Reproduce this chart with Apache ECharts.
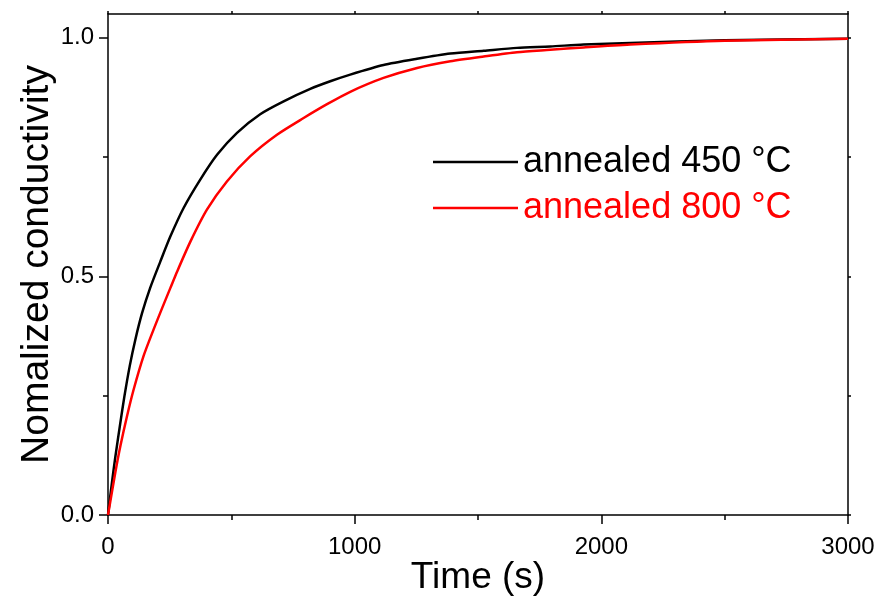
<!DOCTYPE html>
<html>
<head>
<meta charset="utf-8">
<script src="https://cdn.jsdelivr.net/npm/echarts@6/dist/echarts.min.js"></script>
<style>
  html, body { margin: 0; padding: 0; background: #fff; }
  #chart { width: 879px; height: 597px; }
</style>
</head>
<body>
<div id="chart"></div>
<script>
// Normalized conductivity transients after annealing, [time (s), value]
const seriesNames = ['annealed 450 °C', 'annealed 800 °C'];
const seriesColors = ['#000000', '#ff0000'];

const annealed450 = [
  [0, 0], [16, 0.068], [30, 0.123], [50, 0.193], [66, 0.247], [88, 0.312],
  [111, 0.368], [138, 0.423], [171, 0.476], [212, 0.531], [253, 0.584],
  [307, 0.644], [374, 0.703], [442, 0.755], [523, 0.801], [617, 0.840],
  [712, 0.867], [820, 0.893], [901, 0.909], [982, 0.923], [1117, 0.943],
  [1253, 0.956], [1388, 0.967], [1523, 0.973], [1658, 0.979], [1793, 0.982],
  [1928, 0.986], [2117, 0.989], [2500, 0.995], [3000, 0.998]
];

const annealed800 = [
  [0, 0], [30, 0.090], [50, 0.144], [77, 0.207], [104, 0.263], [144, 0.333],
  [185, 0.389], [219, 0.433], [253, 0.476], [280, 0.510], [334, 0.573],
  [401, 0.640], [482, 0.699], [577, 0.752], [685, 0.797], [793, 0.832],
  [888, 0.861], [982, 0.887], [1117, 0.916], [1253, 0.937], [1388, 0.951],
  [1523, 0.961], [1658, 0.970], [1793, 0.975], [1928, 0.980], [2117, 0.986],
  [2500, 0.994], [3000, 0.998]
];

// Tick positions
const xMajorTicks = [0, 1000, 2000, 3000];
const yMajorTicks = [0, 0.5, 1.0];
const yMinorTicks = [0.25, 0.75];

const FONT = "'Liberation Sans', Arial, sans-serif";
const AXIS_COLOR = '#000';

const chart = echarts.init(document.getElementById('chart'), null, { renderer: 'canvas' });

const option = {
  backgroundColor: '#fff',
  animation: false,
  grid: { left: 108, right: 31, top: 14, bottom: 82, containLabel: false, outerBoundsMode: 'none' },
  legend: {
    orient: 'vertical',
    left: 428,
    top: 139,
    icon: 'rect',
    itemWidth: 85,
    itemHeight: 2.5,
    itemGap: 10,
    textStyle: { fontFamily: FONT, fontSize: 36, padding: [0, 0, 0, 0] },
    data: [
      { name: seriesNames[0], textStyle: { color: seriesColors[0] } },
      { name: seriesNames[1], textStyle: { color: seriesColors[1] } }
    ]
  },
  xAxis: [
    {
      type: 'value',
      position: 'bottom',
      min: 0,
      max: 3000,
      interval: 1000,
      name: 'Time (s)',
      nameLocation: 'middle',
      nameGap: 44,
      nameMoveOverlap: false,
      nameTextStyle: { fontFamily: FONT, fontSize: 37, color: '#000' },
      axisLine: { show: true, onZero: false, lineStyle: { color: AXIS_COLOR, width: 1.5 } },
      axisTick: { show: true, inside: false, length: 9, lineStyle: { color: AXIS_COLOR, width: 1.5 } },
      minorTick: { show: true, splitNumber: 2, length: 5, lineStyle: { color: AXIS_COLOR, width: 1.5 } },
      axisLabel: {
        customValues: xMajorTicks,
        margin: 20,
        formatter: (v) => String(Math.round(v)),
        fontFamily: FONT, fontSize: 24, color: '#000'
      },
      splitLine: { show: false }
    },
    {
      type: 'value',
      position: 'top',
      min: 0,
      max: 3000,
      interval: 500,
      axisLine: { show: true, onZero: false, lineStyle: { color: AXIS_COLOR, width: 1.5 } },
      axisTick: { show: true, inside: false, length: 3, lineStyle: { color: AXIS_COLOR, width: 1.5 } },
      axisLabel: { show: false },
      splitLine: { show: false }
    }
  ],
  yAxis: [
    {
      type: 'value',
      position: 'left',
      min: 0,
      max: 1.05,
      name: 'Nomalized conductivity',
      nameLocation: 'middle',
      nameGap: 51,
      nameMoveOverlap: false,
      nameTextStyle: { fontFamily: FONT, fontSize: 39, color: '#000' },
      axisLine: { show: true, onZero: false, lineStyle: { color: AXIS_COLOR, width: 1.5 } },
      axisTick: { show: true, inside: false, length: 9, customValues: yMajorTicks, lineStyle: { color: AXIS_COLOR, width: 1.5 } },
      axisLabel: {
        customValues: yMajorTicks,
        margin: 14,
        formatter: (v) => v.toFixed(1),
        fontFamily: FONT, fontSize: 24, color: '#000'
      },
      splitLine: { show: false }
    },
    {
      type: 'value',
      position: 'left',
      min: 0,
      max: 1.05,
      axisLine: { show: false },
      axisTick: { show: true, inside: false, length: 5, customValues: yMinorTicks, lineStyle: { color: AXIS_COLOR, width: 1.5 } },
      axisLabel: { show: false },
      splitLine: { show: false }
    },
    {
      type: 'value',
      position: 'right',
      min: 0,
      max: 1.05,
      axisLine: { show: true, onZero: false, lineStyle: { color: AXIS_COLOR, width: 1.5 } },
      axisTick: { show: true, inside: false, length: 3, customValues: yMajorTicks.concat(yMinorTicks), lineStyle: { color: AXIS_COLOR, width: 1.5 } },
      axisLabel: { show: false },
      splitLine: { show: false }
    }
  ],
  series: [
    {
      name: seriesNames[0],
      type: 'line',
      xAxisIndex: 0,
      yAxisIndex: 0,
      data: annealed450,
      showSymbol: false,
      symbol: 'none',
      smooth: 0.25,
      color: seriesColors[0],
      lineStyle: { color: seriesColors[0], width: 2.5, join: 'round' },
      z: 3
    },
    {
      name: seriesNames[1],
      type: 'line',
      xAxisIndex: 0,
      yAxisIndex: 0,
      data: annealed800,
      showSymbol: false,
      symbol: 'none',
      smooth: 0.25,
      color: seriesColors[1],
      lineStyle: { color: seriesColors[1], width: 2.5, join: 'round' },
      z: 4
    }
  ]
};

chart.setOption(option);
</script>
</body>
</html>
